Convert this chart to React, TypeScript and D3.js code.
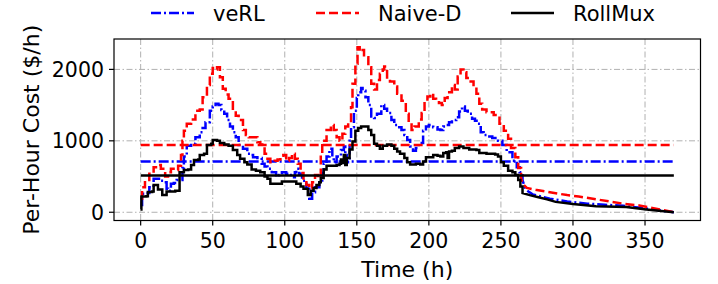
import React, { useEffect } from "react";
import * as d3 from "d3";

// ---------- data ----------
const rollmuxT = [0, 0.5, 4, 5, 8, 9, 11, 12, 14, 15, 17, 18, 24, 26, 27, 30, 33, 35, 37, 40, 41, 44, 46, 49, 50, 53, 55, 58, 61, 64, 67, 69, 72, 74, 77, 80, 83, 86, 88, 90, 97, 98, 105, 108, 111, 113, 116, 118, 120, 122, 124, 125, 127, 129, 131, 136, 138, 139, 140, 141, 142, 143, 145, 147, 149, 151, 153, 156, 158, 160, 162, 164, 166, 168, 171, 174, 176, 178, 180, 183, 185, 187, 191, 194, 196, 198, 200, 203, 206, 208, 210, 212, 213, 214, 216, 218, 221, 224, 228, 233, 235, 240, 246, 248, 250, 252, 255, 258, 260, 262, 263.5, 265, 270, 276, 282, 288, 300, 316, 337, 351, 370];
const rollmuxV = [40, 220, 225, 285, 290, 380, 380, 320, 320, 240, 240, 290, 300, 300, 560, 590, 600, 660, 730, 740, 800, 820, 940, 960, 1010, 1000, 970, 950, 930, 870, 800, 750, 700, 670, 600, 580, 560, 500, 470, 400, 400, 430, 430, 400, 360, 330, 240, 300, 340, 380, 420, 480, 600, 650, 650, 660, 680, 740, 690, 800, 660, 760, 880, 990, 1140, 1180, 1200, 1200, 1150, 1080, 960, 930, 890, 930, 950, 930, 890, 850, 820, 760, 700, 670, 680, 670, 710, 770, 770, 800, 790, 780, 830, 840, 760, 850, 860, 900, 920, 900, 880, 870, 830, 820, 810, 780, 700, 650, 580, 560, 520, 450, 360, 270, 240, 210, 180, 145, 115, 85, 75, 40, 0];

const verlT = [0, 1, 4, 6, 9, 12, 14, 16, 18, 19, 21, 23, 25, 28, 29, 30, 32, 35, 38, 41, 43, 45, 48, 50, 52, 54, 56, 58, 60, 62, 64, 66, 68, 71, 74, 76, 78, 81, 84, 86, 88, 91, 94, 96, 98, 101, 103, 105, 107, 108, 110, 112, 115, 117, 119, 121, 124, 126, 127, 129, 131, 133, 134, 136, 139, 141, 142, 143, 145, 146, 148, 150, 151, 153, 154, 156, 158, 160, 162, 164, 167, 169, 171, 174, 176, 178, 181, 183, 185, 187, 189, 191, 193, 196, 198, 200, 203, 206, 208, 210, 212, 214, 216, 219, 221, 223, 225, 227, 230, 232, 234, 236, 238, 241, 244, 248, 251, 254, 258, 261, 263, 265, 267, 272, 284, 296, 310, 322, 335, 350, 370];
const verlV = [100, 260, 270, 350, 470, 470, 440, 420, 330, 300, 400, 410, 450, 450, 620, 780, 930, 960, 1050, 1120, 1180, 1260, 1420, 1480, 1520, 1500, 1430, 1380, 1290, 1200, 1120, 1050, 940, 890, 820, 800, 770, 760, 680, 640, 610, 560, 500, 520, 560, 540, 520, 490, 560, 610, 540, 440, 330, 190, 280, 350, 420, 550, 680, 780, 890, 760, 700, 780, 870, 920, 800, 700, 1000, 1190, 1420, 1600, 1680, 1740, 1700, 1610, 1500, 1340, 1320, 1380, 1500, 1450, 1390, 1290, 1220, 1190, 1150, 1080, 1010, 920, 860, 900, 970, 1140, 1200, 1220, 1190, 1160, 1150, 1200, 1220, 1260, 1290, 1330, 1410, 1480, 1420, 1380, 1310, 1280, 1240, 1120, 1080, 1060, 1040, 1000, 940, 840, 720, 630, 560, 450, 320, 250, 190, 150, 120, 105, 90, 55, 0];

const naiveT = [0, 1, 3, 6, 9, 12, 14, 17, 19, 21, 24, 26, 28, 29, 30, 32, 35, 38, 41, 43, 46, 48, 50, 52, 53, 55, 57, 59, 61, 64, 66, 68, 71, 73, 75, 79, 81, 83, 86, 88, 90, 93, 95, 97, 99, 101, 103, 105, 107, 109, 111, 113, 115, 117, 119, 121, 123, 125, 126, 129, 132, 134, 136, 138, 140, 142, 144, 146, 147, 149, 150.5, 152, 153, 155, 158, 160, 162, 164, 166, 168, 169, 171, 173, 176, 178, 181, 184, 186, 188, 190, 193, 195, 197, 199, 201, 203, 205, 207, 209, 211, 213, 216, 218, 220, 222, 224, 226, 229, 231, 233, 235, 237, 240, 245, 249, 252, 255, 257, 260, 262, 264, 265, 268, 275, 284, 296, 304, 318, 327, 335, 346, 355, 370];
const naiveV = [190, 350, 450, 540, 630, 660, 610, 500, 560, 610, 590, 650, 800, 1000, 1140, 1240, 1300, 1420, 1440, 1610, 1780, 1940, 2020, 2000, 2030, 1890, 1730, 1650, 1590, 1430, 1350, 1290, 1150, 1080, 1050, 1050, 980, 950, 820, 750, 700, 720, 740, 790, 800, 720, 760, 820, 750, 680, 550, 450, 380, 330, 420, 520, 480, 800, 1000, 1150, 1220, 1150, 1050, 1000, 1100, 1200, 1250, 1470, 1800, 2080, 2310, 2250, 2270, 2170, 2030, 1800, 1720, 1850, 1940, 2000, 2040, 1860, 1830, 1760, 1660, 1560, 1380, 1260, 1150, 1200, 1300, 1390, 1550, 1620, 1660, 1590, 1560, 1530, 1500, 1600, 1680, 1780, 1720, 1900, 2000, 1960, 1880, 1830, 1760, 1660, 1520, 1440, 1400, 1360, 1240, 1140, 1030, 900, 770, 620, 480, 400, 340, 310, 280, 240, 220, 175, 145, 120, 95, 60, 0];

// average (horizontal) levels
const verlAvg = 710;
const naiveAvg = 940;
const rollmuxAvg = 515;
const avgSpan = [0, 370];
// after this hour the curves decay smoothly (no steps)
const smoothFrom = 264;

const xTicks = [0, 50, 100, 150, 200, 250, 300, 350];
const yTicks = [0, 1000, 2000];
const legendLabels = ["veRL", "Naive-D", "RollMux"];

// ---------- chart ----------
const W = 718;
const H = 284;
const FONT = "'DejaVu Sans', sans-serif";

export default function App() {
  useEffect(() => {
    document.body.style.margin = "0";
  }, []);

  const left = 114;
  const right = 700.5;
  const top = 39;
  const bottom = 220.5;

  const x = d3.scaleLinear().domain([-18.5, 388.5]).range([left, right]);
  const y = d3.scaleLinear().domain([-115.5, 2425.5]).range([bottom, top]);

  const mk = (ts: number[], vs: number[]) => {
    const pts = ts.map((t, i) => [t, vs[i]] as [number, number]);
    const k = pts.findIndex((p) => p[0] >= smoothFrom);
    const head = pts.slice(0, k + 1);
    const tail = pts.slice(k);
    const step = d3
      .line<[number, number]>()
      .x((p) => x(p[0]))
      .y((p) => y(p[1]))
      .curve(d3.curveStepAfter)(head) as string;
    const lin = d3
      .line<[number, number]>()
      .x((p) => x(p[0]))
      .y((p) => y(p[1]))(tail) as string;
    return step + lin.replace(/^M/, "L");
  };

  const hline = (v: number) =>
    d3
      .line<number>()
      .x((t) => x(t))
      .y(() => y(v))(avgSpan) as string;

  const series = [
    { name: legendLabels[0], color: "#0000ff", dash: "10 3 2 3", path: mk(verlT, verlV), avg: hline(verlAvg) },
    { name: legendLabels[1], color: "#ff0000", dash: "9 4", path: mk(naiveT, naiveV), avg: hline(naiveAvg) },
    { name: legendLabels[2], color: "#000000", dash: "none", path: mk(rollmuxT, rollmuxV), avg: hline(rollmuxAvg) },
  ];

  const gridStyle = { stroke: "#b0b0b0", strokeWidth: 1, strokeDasharray: "6 2.5 1.5 2.5" };
  const lw = 2.5;

  const legendX = [151, 316, 511];

  return (
    <svg width={W} height={H} style={{ position: "absolute", left: 0, top: 0, background: "#fff" }} fontFamily={FONT}>
      <rect x={0} y={0} width={W} height={H} fill="#fff" />
      {/* grid */}
      {xTicks.map((t) => (
        <line key={"gx" + t} x1={x(t)} x2={x(t)} y1={top} y2={bottom} {...gridStyle} />
      ))}
      {yTicks.map((t) => (
        <line key={"gy" + t} x1={left} x2={right} y1={y(t)} y2={y(t)} {...gridStyle} />
      ))}
      <defs>
        <clipPath id="plotclip">
          <rect x={left} y={top} width={right - left} height={bottom - top} />
        </clipPath>
      </defs>
      <g clipPath="url(#plotclip)">
        {series.map((s) => (
          <g key={s.name}>
            <path d={s.path} fill="none" stroke={s.color} strokeWidth={lw} strokeDasharray={s.dash} strokeLinejoin="miter" />
            <path d={s.avg} fill="none" stroke={s.color} strokeWidth={lw} strokeDasharray={s.dash} />
          </g>
        ))}
      </g>
      {/* spines */}
      <rect x={left} y={top} width={right - left} height={bottom - top} fill="none" stroke="#000" strokeWidth={1.2} />
      {/* x ticks */}
      {xTicks.map((t) => (
        <g key={"xt" + t}>
          <line x1={x(t)} x2={x(t)} y1={bottom} y2={bottom + 5} stroke="#000" strokeWidth={1.2} />
          <text x={x(t)} y={bottom + 27.5} textAnchor="middle" fontSize={20.5} fill="#000">
            {t}
          </text>
        </g>
      ))}
      {/* y ticks */}
      {yTicks.map((t) => (
        <g key={"yt" + t}>
          <line x1={left - 5} x2={left} y1={y(t)} y2={y(t)} stroke="#000" strokeWidth={1.2} />
          <text x={left - 10} y={y(t) + 7.5} textAnchor="end" fontSize={20.5} fill="#000">
            {t}
          </text>
        </g>
      ))}
      {/* axis labels */}
      <text x={(left + right) / 2} y={277} textAnchor="middle" fontSize={22} fill="#000">
        Time (h)
      </text>
      <text transform={`translate(39, ${(top + bottom) / 2}) rotate(-90)`} textAnchor="middle" fontSize={22} fill="#000">
        Per-Hour Cost ($/h)
      </text>
      {/* legend */}
      {series.map((s, i) => (
        <g key={"lg" + s.name}>
          <line x1={legendX[i]} x2={legendX[i] + 43} y1={13} y2={13} stroke={s.color} strokeWidth={lw} strokeDasharray={s.dash} />
          <text x={legendX[i] + 62} y={21} fontSize={21} fill="#000">
            {s.name}
          </text>
        </g>
      ))}
    </svg>
  );
}
